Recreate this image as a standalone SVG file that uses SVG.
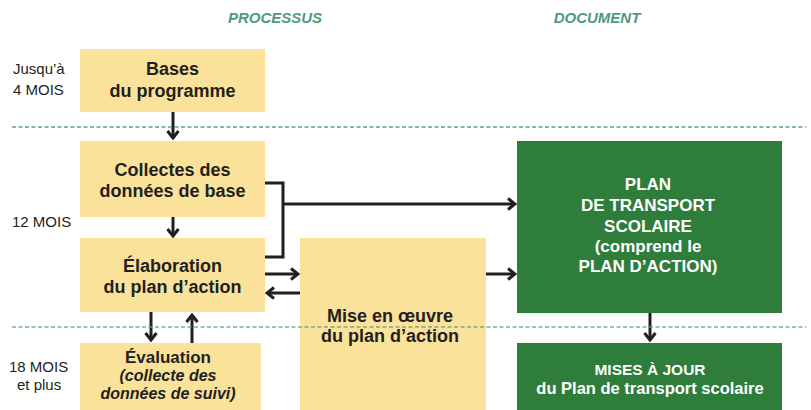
<svg xmlns="http://www.w3.org/2000/svg" width="811" height="410" viewBox="0 0 811 410">
<defs>
<style>
.hdr{font-family:"Liberation Sans",Arial,sans-serif;font-size:15px;font-weight:bold;font-style:italic;fill:#4e9a7e;text-anchor:middle}
.lbl{font-family:"Liberation Sans",Arial,sans-serif;font-size:15px;fill:#231f20}
.yb{fill:#fae29a}
.gb{fill:#2e7d3b}
.yt{font-family:"Liberation Sans",Arial,sans-serif;font-size:18px;font-weight:bold;fill:#231f20;text-anchor:middle}
.it{font-style:italic;font-size:16px}
.gt{font-family:"Liberation Sans",Arial,sans-serif;font-size:17px;font-weight:bold;fill:#ffffff;text-anchor:middle}
.dot{stroke:#5aa58a;stroke-width:1.6;stroke-dasharray:4 2.5;fill:none}
.con{stroke:#231f20;stroke-width:3;fill:none}
</style>
<marker id="ah" viewBox="-10 -8 12 16" markerWidth="12" markerHeight="16" refX="0" refY="0" orient="auto" markerUnits="userSpaceOnUse">
<path d="M-7,-5.5 L0,0 L-7,5.5" fill="none" stroke="#231f20" stroke-width="3"/>
</marker>
</defs>
<rect width="811" height="410" fill="#ffffff"/>

<g id="headers">
<text class="hdr" x="275" y="23">PROCESSUS</text>
<text class="hdr" x="597" y="23">DOCUMENT</text>
</g>

<g id="timeline-labels">
<text class="lbl" x="13" y="74">Jusqu’à</text>
<text class="lbl" x="13" y="95">4 MOIS</text>
<text class="lbl" x="12" y="227">12 MOIS</text>
<text class="lbl" x="9" y="372">18 MOIS</text>
<text class="lbl" x="17" y="390">et plus</text>
</g>

<g id="bases">
<rect class="yb" x="80" y="49" width="185" height="63"/>
<text class="yt" x="172.5" y="75">Bases</text>
<text class="yt" x="172.5" y="97">du programme</text>
</g>

<g id="collectes">
<rect class="yb" x="80" y="141" width="185" height="76"/>
<text class="yt" x="172.5" y="176">Collectes des</text>
<text class="yt" x="172.5" y="197">données de base</text>
</g>

<g id="elaboration">
<rect class="yb" x="80" y="238" width="185" height="74"/>
<text class="yt" x="172.5" y="272">Élaboration</text>
<text class="yt" x="172.5" y="293">du plan d’action</text>
</g>

<g id="evaluation">
<rect class="yb" x="80" y="343" width="181" height="67"/>
<text class="yt" x="168" y="363" style="font-size:17px">Évaluation</text>
<text class="yt it" x="168" y="381">(collecte des</text>
<text class="yt it" x="168" y="399">données de suivi)</text>
</g>

<g id="mise-en-oeuvre">
<rect class="yb" x="300" y="238" width="186" height="172"/>
<text class="yt" x="390" y="322">Mise en œuvre</text>
<text class="yt" x="390" y="342">du plan d’action</text>
</g>

<g id="plan-transport">
<rect class="gb" x="517" y="141" width="265" height="172"/>
<text class="gt" x="648" y="190">PLAN</text>
<text class="gt" x="648" y="211">DE TRANSPORT</text>
<text class="gt" x="648" y="232">SCOLAIRE</text>
<text class="gt" x="648" y="252">(comprend le</text>
<text class="gt" x="648" y="272">PLAN D’ACTION)</text>
</g>

<g id="mises-a-jour">
<rect class="gb" x="517" y="343" width="265" height="67"/>
<text class="gt" x="650" y="375" style="font-size:15.5px">MISES À JOUR</text>
<text class="gt" x="650" y="394" style="font-size:16.5px">du Plan de transport scolaire</text>
</g>

<g id="connectors">
<line class="con" x1="173" y1="112" x2="173" y2="138" marker-end="url(#ah)"/>
<line class="con" x1="173" y1="217" x2="173" y2="236" marker-end="url(#ah)"/>
<polyline class="con" points="265,183 283,183 283,257 265,257"/>
<line class="con" x1="283" y1="204" x2="515" y2="204" marker-end="url(#ah)"/>
<line class="con" x1="265" y1="274" x2="298" y2="274" marker-end="url(#ah)"/>
<line class="con" x1="300" y1="293" x2="267" y2="293" marker-end="url(#ah)"/>
<line class="con" x1="486" y1="274" x2="515" y2="274" marker-end="url(#ah)"/>
<line class="con" x1="151" y1="312" x2="151" y2="340" marker-end="url(#ah)"/>
<line class="con" x1="192" y1="343" x2="192" y2="315" marker-end="url(#ah)"/>
<line class="con" x1="650" y1="313" x2="650" y2="340" marker-end="url(#ah)"/>
</g>

<g id="period-dividers">
<line class="dot" x1="12" y1="127" x2="806" y2="127"/>
<line class="dot" x1="12" y1="327" x2="806" y2="327" opacity="0.85"/>
</g>
</svg>
